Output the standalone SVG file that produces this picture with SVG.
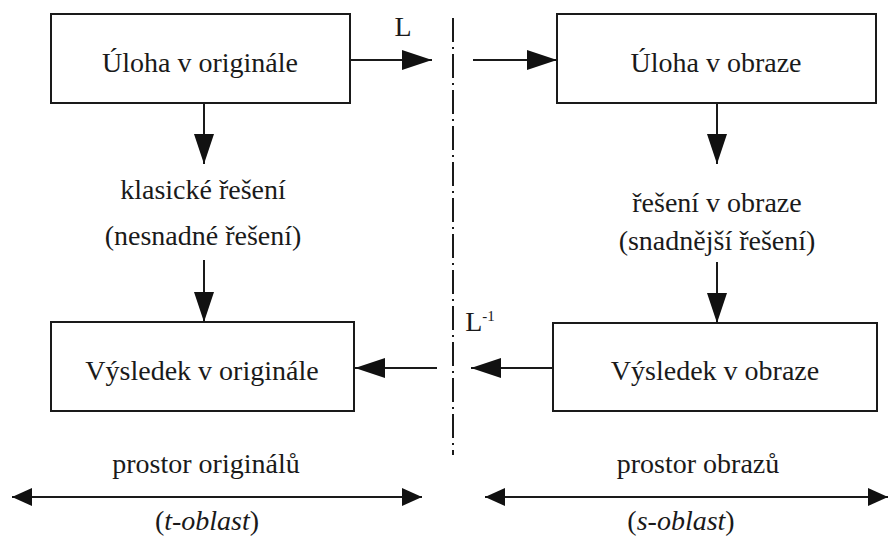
<svg xmlns="http://www.w3.org/2000/svg" width="889" height="541" viewBox="0 0 889 541">
<style>
  .box { fill: #fff; stroke: #1a1a1a; stroke-width: 2; }
  .t { font-family: "Liberation Serif", "Times New Roman", serif; font-size: 28px; fill: #1a1a1a; text-anchor: middle; }
  .ln { stroke: #1a1a1a; stroke-width: 2; fill: none; }
  .big { marker-end: url(#ah); }
</style>
<defs>
  <marker id="ah" markerUnits="userSpaceOnUse" markerWidth="30" markerHeight="20" refX="30" refY="10" orient="auto" viewBox="0 0 30 20">
    <path d="M0,0 L30,10 L0,20 z" fill="#111"/>
  </marker>
  <marker id="sh" markerUnits="userSpaceOnUse" markerWidth="20" markerHeight="18" refX="20" refY="9" orient="auto-start-reverse" viewBox="0 0 20 18">
    <path d="M0,0 L20,9 L0,18 z" fill="#111"/>
  </marker>
</defs>
<rect width="889" height="541" fill="#fff"/>

<g id="box-uloha-original">
  <rect class="box" x="51" y="14" width="299" height="89"/>
  <text class="t" x="200" y="72">Úloha v originále</text>
</g>
<g id="box-uloha-obraz">
  <rect class="box" x="557" y="14" width="319" height="89"/>
  <text class="t" x="716" y="72">Úloha v obraze</text>
</g>
<g id="box-vysledek-original">
  <rect class="box" x="51" y="322" width="303" height="89"/>
  <text class="t" x="202" y="380">Výsledek v originále</text>
</g>
<g id="box-vysledek-obraz">
  <rect class="box" x="553" y="323" width="324" height="88"/>
  <text class="t" x="715" y="380">Výsledek v obraze</text>
</g>
<g id="label-klasicke">
  <text class="t" x="203" y="199">klasické řešení</text>
  <text class="t" x="203" y="245">(nesnadné řešení)</text>
</g>
<g id="label-reseni-obraz">
  <text class="t" x="717" y="212">řešení v obraze</text>
  <text class="t" x="717" y="250">(snadnější řešení)</text>
</g>
<g id="label-prostor-originalu">
  <text class="t" x="206" y="473">prostor originálů</text>
  <text class="t" x="207" y="530">(<tspan font-style="italic">t-oblast</tspan>)</text>
</g>
<g id="label-prostor-obrazu">
  <text class="t" x="698" y="473">prostor obrazů</text>
  <text class="t" x="681" y="530">(<tspan font-style="italic">s-oblast</tspan>)</text>
</g>

<g id="connectors">
  <line class="ln" x1="453" y1="18" x2="453" y2="455" stroke-dasharray="24 5 2 5"/>
  <line class="ln big" x1="350" y1="60" x2="432" y2="60"/>
  <text class="t" x="403" y="36">L</text>
  <line class="ln big" x1="473" y1="60" x2="557" y2="60"/>
  <line class="ln big" x1="204" y1="103" x2="204" y2="164"/>
  <line class="ln big" x1="204" y1="260" x2="204" y2="322"/>
  <line class="ln big" x1="717" y1="103" x2="717" y2="164"/>
  <line class="ln big" x1="717" y1="262" x2="717" y2="323"/>
  <line class="ln big" x1="437" y1="368" x2="355" y2="368"/>
  <line class="ln big" x1="553" y1="368" x2="471" y2="368"/>
  <text class="t" x="480" y="331" text-anchor="start">L<tspan font-size="15" dy="-10">-1</tspan></text>
  <line class="ln" x1="12" y1="497" x2="422" y2="497" marker-start="url(#sh)" marker-end="url(#sh)"/>
  <line class="ln" x1="485" y1="497" x2="888" y2="497" marker-start="url(#sh)" marker-end="url(#sh)"/>
</g>
</svg>
